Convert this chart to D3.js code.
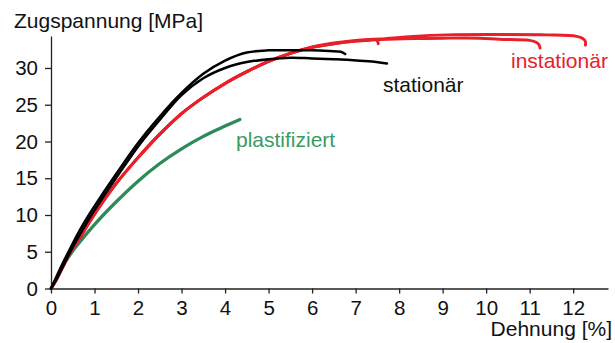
<!DOCTYPE html>
<html>
<head>
<meta charset="utf-8">
<script src="https://cdn.jsdelivr.net/npm/d3@7"></script>
<style>
  body { margin: 0; background: #fff; }
  svg { display: block; font-family: "Liberation Sans", Arial, sans-serif; }
  .axis path, .axis line { stroke: #222; stroke-width: 1.3; }
  .axis text { font-size: 20.5px; fill: #111; font-family: "Liberation Sans", Arial, sans-serif; }
</style>
</head>
<body>
<div id="chart"></div>
<script>
// Dehnung [%] / Zugspannung [MPa]
const xTicks = [0, 1, 2, 3, 4, 5, 6, 7, 8, 9, 10, 11, 12];
const yTicks = [0, 5, 10, 15, 20, 25, 30];

// stationär (schwarz)
const stat1X = [0, 0.1, 0.25, 0.42, 0.65, 0.86, 1.0, 1.5, 2.0, 2.5, 3.0, 3.5, 4.0, 4.5, 5.0, 5.5, 6.0, 6.4, 6.66, 6.76];
const stat1Y = [0, 1.3, 3.2, 5.2, 7.8, 9.9, 11.2, 15.6, 19.8, 23.4, 26.6, 29.2, 31.0, 32.1, 32.4, 32.4, 32.4, 32.3, 32.2, 31.9];
const stat2X = [0, 0.12, 0.3, 0.47, 0.7, 0.9, 1.05, 1.55, 2.05, 2.55, 3.0, 3.5, 4.0, 4.5, 5.0, 5.5, 6.0, 6.5, 6.87, 7.3, 7.72];
const stat2Y = [0, 1.2, 3.3, 5.3, 7.7, 9.7, 11.1, 15.5, 19.7, 23.3, 26.3, 28.6, 30.0, 30.8, 31.2, 31.4, 31.3, 31.2, 31.1, 30.9, 30.6];

// instationär (rot)
const inst1X = [0, 0.15, 0.3, 0.45, 0.63, 0.9, 1.17, 1.5, 2.0, 2.5, 3.0, 3.5, 4.0, 4.5, 5.0, 5.5, 6.0, 6.5, 7.0, 7.3, 7.45, 7.5, 7.52];
const inst1Y = [0, 1.5, 3.3, 5.0, 6.6, 9.2, 11.6, 14.3, 17.8, 21.0, 23.8, 26.0, 27.9, 29.5, 30.9, 32.0, 32.8, 33.3, 33.65, 33.8, 33.9, 33.7, 33.3];
const inst2X = [0, 0.15, 0.3, 0.45, 0.63, 0.9, 1.17, 1.5, 2.0, 2.5, 3.0, 3.5, 4.0, 4.5, 5.0, 5.5, 6.0, 6.5, 7.0, 7.56, 8.32, 9.0, 9.86, 10.3, 11.0, 11.15, 11.22, 11.24];
const inst2Y = [0, 1.5, 3.3, 5.0, 6.6, 9.2, 11.6, 14.3, 17.8, 21.0, 23.8, 26.0, 27.9, 29.5, 30.9, 32.0, 32.8, 33.3, 33.65, 33.85, 34.0, 34.05, 34.05, 33.9, 33.75, 33.5, 33.1, 32.7];
const inst3X = [0, 0.15, 0.3, 0.45, 0.63, 0.9, 1.17, 1.5, 2.0, 2.5, 3.0, 3.5, 4.0, 4.5, 5.0, 5.5, 6.0, 6.5, 7.0, 7.56, 8.32, 9.1, 10.0, 11.4, 12.08, 12.22, 12.28, 12.28];
const inst3Y = [0, 1.5, 3.3, 5.0, 6.6, 9.2, 11.6, 14.3, 17.8, 21.0, 23.8, 26.0, 27.9, 29.5, 30.9, 32.0, 32.85, 33.4, 33.75, 33.95, 34.3, 34.5, 34.55, 34.5, 34.3, 34.0, 33.6, 33.1];

// plastifiziert (grün)
const plastX = [0, 0.1, 0.21, 0.35, 0.55, 1.0, 1.5, 2.0, 2.5, 3.0, 3.5, 4.0, 4.34];
const plastY = [0, 1.0, 2.3, 3.8, 5.5, 8.7, 11.8, 14.6, 17.0, 19.0, 20.7, 22.1, 23.0];

const width = 615;
const height = 343;

const red = "#e8202a";
const green = "#2e8b57";

const svg = d3.select("#chart")
    .append("svg")
    .attr("width", width)
    .attr("height", height);

const x = d3.scaleLinear()
    .domain([0, 12.8])
    .range([51, 608]);

const y = d3.scaleLinear()
    .domain([0, 34.35])
    .range([288.5, 36]);

// Achsen
svg.append("g")
    .attr("class", "axis")
    .attr("transform", `translate(0,${y(0)})`)
    .call(d3.axisBottom(x).tickValues(xTicks).tickSize(5).tickSizeOuter(0).tickPadding(6.5));

svg.append("g")
    .attr("class", "axis")
    .attr("transform", `translate(${x(0)},0)`)
    .call(d3.axisLeft(y).tickValues(yTicks).tickSize(6).tickSizeOuter(0).tickPadding(7));

// Kurven
const line = d3.line()
    .curve(d3.curveCatmullRom.alpha(0.5))
    .x(d => x(d[0]))
    .y(d => y(d[1]));

const series = [
    {xs: plastX, ys: plastY, color: green, w: 3.3},
    {xs: inst1X, ys: inst1Y, color: red, w: 2.9},
    {xs: inst2X, ys: inst2Y, color: red, w: 2.9},
    {xs: inst3X, ys: inst3Y, color: red, w: 2.9},
    {xs: stat2X, ys: stat2Y, color: "#000", w: 2.5},
    {xs: stat1X, ys: stat1Y, color: "#000", w: 2.5}
];

svg.append("g")
    .selectAll("path")
    .data(series)
    .join("path")
    .attr("fill", "none")
    .attr("stroke", d => d.color)
    .attr("stroke-width", d => d.w)
    .attr("stroke-linejoin", "round")
    .attr("stroke-linecap", "round")
    .attr("d", d => line(d.xs.map((v, i) => [v, d.ys[i]])));

// Beschriftung
svg.append("text")
    .attr("x", 14)
    .attr("y", 28)
    .attr("font-size", 21)
    .attr("fill", "#111")
    .text("Zugspannung [MPa]");

svg.append("text")
    .attr("x", 612)
    .attr("y", 336)
    .attr("text-anchor", "end")
    .attr("font-size", 21)
    .attr("fill", "#111")
    .text("Dehnung [%]");

svg.append("text")
    .attr("x", 383)
    .attr("y", 92)
    .attr("font-size", 21)
    .attr("fill", "#111")
    .text("stationär");

svg.append("text")
    .attr("x", 511)
    .attr("y", 68)
    .attr("font-size", 21)
    .attr("fill", red)
    .text("instationär");

svg.append("text")
    .attr("x", 236)
    .attr("y", 147)
    .attr("font-size", 21)
    .attr("fill", "#3a9a64")
    .text("plastifiziert");
</script>
</body>
</html>
